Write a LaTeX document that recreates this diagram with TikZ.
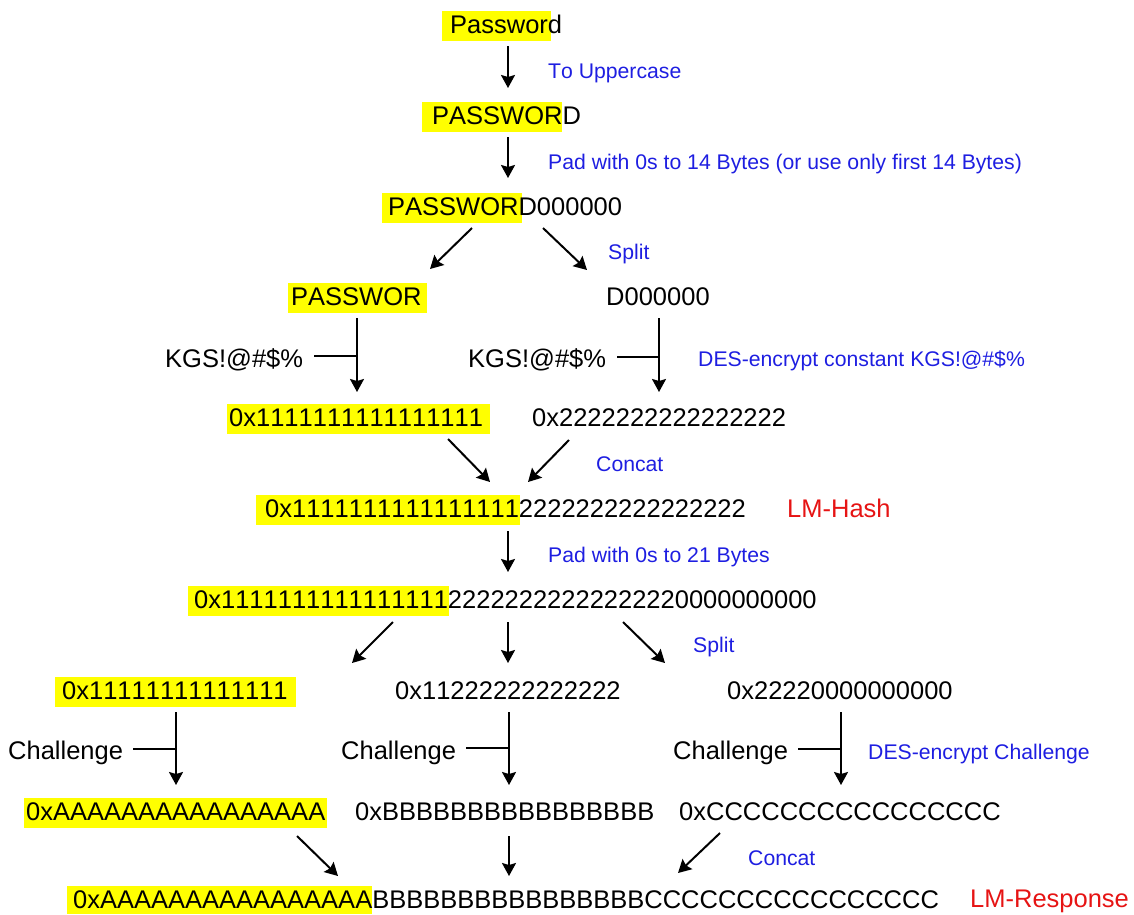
\documentclass[tikz,border=0pt]{standalone}
\usepackage{fontspec}
\setmainfont[Kerning=Off]{Liberation Sans}
\usetikzlibrary{arrows.meta}
\definecolor{hlyellow}{RGB}{255,255,0}
\definecolor{lblblue}{RGB}{30,30,225}
\definecolor{lblred}{RGB}{230,20,20}
\newcommand\mybigfont{\fontsize{25.5}{30}\selectfont}
\newcommand\mysmallfont{\fontsize{21.2}{25}\selectfont}
\tikzset{
  txt/.style={anchor=base west, inner sep=0pt, font=\mybigfont, text=black},
  lbl/.style={anchor=base west, inner sep=0pt, font=\mysmallfont, text=lblblue},
  res/.style={anchor=base west, inner sep=0pt, font=\mybigfont, text=lblred},
  hl/.style={fill=hlyellow},
  arr/.style={line width=2pt, -{Stealth[length=13pt,width=14pt,inset=2pt]}},
  tee/.style={line width=2pt}
}
\begin{document}
\begin{tikzpicture}[x=1pt,y=-1pt]
\useasboundingbox (0,0) rectangle (1134,914);
% highlights
\fill[hl] (442,11) rectangle (551,41);
\fill[hl] (422,102) rectangle (562,132);
\fill[hl] (382,193) rectangle (522,223);
\fill[hl] (288,283) rectangle (427,313);
\fill[hl] (227,404) rectangle (490,434);
\fill[hl] (256,495) rectangle (520,525);
\fill[hl] (188,586) rectangle (449,616);
\fill[hl] (55,677) rectangle (296,707);
\fill[hl] (24,798) rectangle (327,828);
\fill[hl] (67,886) rectangle (372,914);
% texts
\node[txt] (pw) at (450,33) {Password};
\node[txt] (pwu) at (432,124) {PASSWORD};
\node[txt] (pwp) at (388,215) {PASSWORD000000};
\node[txt] (hA) at (291,305) {PASSWOR};
\node[txt] (hB) at (606,305) {D000000};
\node[txt] (kA) at (165,367) {KGS!@\#\$\%};
\node[txt] (kB) at (468,367) {KGS!@\#\$\%};
\node[txt] (eA) at (229,426) {0x1111111111111111};
\node[txt] (eB) at (532,426) {0x2222222222222222};
\node[txt] (lmh) at (265,517) {0x11111111111111112222222222222222};
\node[res] (lmhl) at (787,517) {LM-Hash};
\node[txt] (pad) at (194,608) {0x111111111111111122222222222222220000000000};
\node[txt] (sA) at (62,699) {0x11111111111111};
\node[txt] (sB) at (395,699) {0x11222222222222};
\node[txt] (sC) at (727,699) {0x22220000000000};
\node[txt] (cA) at (8,759) {Challenge};
\node[txt] (cB) at (341,759) {Challenge};
\node[txt] (cC) at (673,759) {Challenge};
\node[txt] (rA) at (26,820) {0xAAAAAAAAAAAAAAAA};
\node[txt] (rB) at (355,820) {0xBBBBBBBBBBBBBBBB};
\node[txt] (rC) at (679,820) {0xCCCCCCCCCCCCCCCC};
\node[txt] (fin) at (73,908) {0xAAAAAAAAAAAAAAAABBBBBBBBBBBBBBBBCCCCCCCCCCCCCCCC};
\node[res] (finl) at (970,907) {LM-Response};
% blue labels
\node[lbl] (l1) at (548,78) {To Uppercase};
\node[lbl] (l2) at (548,169) {Pad with 0s to 14 Bytes (or use only first 14 Bytes)};
\node[lbl] (l3) at (608,259) {Split};
\node[lbl] (l4) at (698,366) {DES-encrypt constant KGS!@\#\$\%};
\node[lbl] (l5) at (596,471) {Concat};
\node[lbl] (l6) at (548,562) {Pad with 0s to 21 Bytes};
\node[lbl] (l7) at (693,652) {Split};
\node[lbl] (l8) at (868,759) {DES-encrypt Challenge};
\node[lbl] (l9) at (748,865) {Concat};
% connector end points
\coordinate (a1s) at (508,46);  \coordinate (a1e) at (508,88);
\coordinate (a2s) at (508,137); \coordinate (a2e) at (508,178);
\coordinate (a3s) at (472,228); \coordinate (a3e) at (430,269);
\coordinate (a4s) at (543,228); \coordinate (a4e) at (587,270);
\coordinate (a5s) at (357,318); \coordinate (a5e) at (357,392);
\coordinate (t5s) at (314,356); \coordinate (t5e) at (357,356);
\coordinate (a6s) at (659,318); \coordinate (a6e) at (659,392);
\coordinate (t6s) at (617,357); \coordinate (t6e) at (659,357);
\coordinate (a7s) at (448,439); \coordinate (a7e) at (490,482);
\coordinate (a8s) at (569,440); \coordinate (a8e) at (528,482);
\coordinate (a9s) at (508,531); \coordinate (a9e) at (508,572);
\coordinate (b1s) at (393,622); \coordinate (b1e) at (352,663);
\coordinate (b2s) at (508,622); \coordinate (b2e) at (508,663);
\coordinate (b3s) at (623,622); \coordinate (b3e) at (665,663);
\coordinate (c1s) at (176,712); \coordinate (c1e) at (176,785);
\coordinate (u1s) at (133,749); \coordinate (u1e) at (176,749);
\coordinate (c2s) at (509,712); \coordinate (c2e) at (509,785);
\coordinate (u2s) at (466,748); \coordinate (u2e) at (509,748);
\coordinate (c3s) at (841,712); \coordinate (c3e) at (841,785);
\coordinate (u3s) at (798,749); \coordinate (u3e) at (841,749);
\coordinate (d1s) at (297,836); \coordinate (d1e) at (338,876);
\coordinate (d2s) at (509,836); \coordinate (d2e) at (509,876);
\coordinate (d3s) at (720,833); \coordinate (d3e) at (678,873);
% connectors
\draw[arr] (a1s) -- (a1e);
\draw[arr] (a2s) -- (a2e);
\draw[arr] (a3s) -- (a3e);
\draw[arr] (a4s) -- (a4e);
\draw[arr] (a5s) -- (a5e);
\draw[tee] (t5s) -- (t5e);
\draw[arr] (a6s) -- (a6e);
\draw[tee] (t6s) -- (t6e);
\draw[arr] (a7s) -- (a7e);
\draw[arr] (a8s) -- (a8e);
\draw[arr] (a9s) -- (a9e);
\draw[arr] (b1s) -- (b1e);
\draw[arr] (b2s) -- (b2e);
\draw[arr] (b3s) -- (b3e);
\draw[arr] (c1s) -- (c1e);
\draw[tee] (u1s) -- (u1e);
\draw[arr] (c2s) -- (c2e);
\draw[tee] (u2s) -- (u2e);
\draw[arr] (c3s) -- (c3e);
\draw[tee] (u3s) -- (u3e);
\draw[arr] (d1s) -- (d1e);
\draw[arr] (d2s) -- (d2e);
\draw[arr] (d3s) -- (d3e);
\end{tikzpicture}
\end{document}
